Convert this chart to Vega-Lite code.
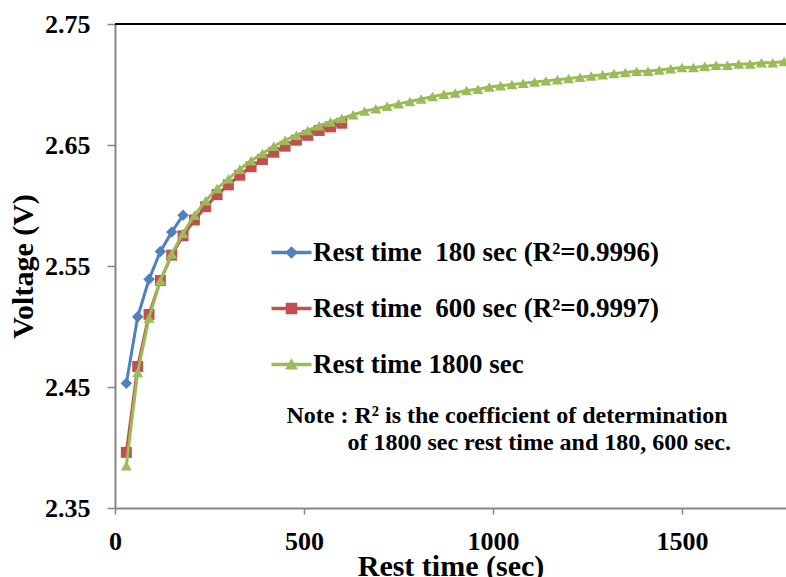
{
  "$schema": "https://vega.github.io/schema/vega-lite/v6.json",
  "autosize": "none",
  "width": 671,
  "height": 484,
  "padding": {"left": 115, "top": 24, "right": 0, "bottom": 69},
  "background": "white",
  "config": {
    "view": {"stroke": null},
    "font": "Liberation Serif",
    "axis": {
      "grid": false,
      "domainColor": "#868686",
      "domainWidth": 2,
      "tickColor": "#868686",
      "tickWidth": 1.5,
      "labelFont": "Liberation Serif",
      "labelFontWeight": "bold",
      "labelFontSize": 26,
      "labelColor": "black",
      "titleFont": "Liberation Serif",
      "titleFontWeight": "bold",
      "titleFontSize": 30,
      "titleColor": "black"
    }
  },
  "datasets": {
    "volt": [
      {"s": "180", "t": 30, "v": 2.453}, {"s": "180", "t": 60, "v": 2.508}, {"s": "180", "t": 90, "v": 2.539},
      {"s": "180", "t": 120, "v": 2.562}, {"s": "180", "t": 150, "v": 2.578}, {"s": "180", "t": 180, "v": 2.592},
      {"s": "600", "t": 30, "v": 2.396}, {"s": "600", "t": 60, "v": 2.467}, {"s": "600", "t": 90, "v": 2.510},
      {"s": "600", "t": 120, "v": 2.538}, {"s": "600", "t": 150, "v": 2.559}, {"s": "600", "t": 180, "v": 2.575},
      {"s": "600", "t": 210, "v": 2.588}, {"s": "600", "t": 240, "v": 2.599}, {"s": "600", "t": 270, "v": 2.609},
      {"s": "600", "t": 300, "v": 2.617}, {"s": "600", "t": 330, "v": 2.625}, {"s": "600", "t": 360, "v": 2.632},
      {"s": "600", "t": 390, "v": 2.638}, {"s": "600", "t": 420, "v": 2.644}, {"s": "600", "t": 450, "v": 2.649},
      {"s": "600", "t": 480, "v": 2.654}, {"s": "600", "t": 510, "v": 2.658}, {"s": "600", "t": 540, "v": 2.662},
      {"s": "600", "t": 570, "v": 2.665}, {"s": "600", "t": 600, "v": 2.668},
      {"s": "1800", "t": 30, "v": 2.385}, {"s": "1800", "t": 60, "v": 2.462}, {"s": "1800", "t": 90, "v": 2.507},
      {"s": "1800", "t": 120, "v": 2.538}, {"s": "1800", "t": 150, "v": 2.560}, {"s": "1800", "t": 180, "v": 2.577},
      {"s": "1800", "t": 210, "v": 2.592}, {"s": "1800", "t": 240, "v": 2.604}, {"s": "1800", "t": 270, "v": 2.614},
      {"s": "1800", "t": 300, "v": 2.622}, {"s": "1800", "t": 330, "v": 2.630}, {"s": "1800", "t": 360, "v": 2.637},
      {"s": "1800", "t": 390, "v": 2.643}, {"s": "1800", "t": 420, "v": 2.649}, {"s": "1800", "t": 450, "v": 2.654},
      {"s": "1800", "t": 480, "v": 2.658}, {"s": "1800", "t": 510, "v": 2.662}, {"s": "1800", "t": 540, "v": 2.666},
      {"s": "1800", "t": 570, "v": 2.669}, {"s": "1800", "t": 600, "v": 2.672}, {"s": "1800", "t": 630, "v": 2.675},
      {"s": "1800", "t": 660, "v": 2.678}, {"s": "1800", "t": 690, "v": 2.680}, {"s": "1800", "t": 720, "v": 2.682},
      {"s": "1800", "t": 750, "v": 2.684}, {"s": "1800", "t": 780, "v": 2.686}, {"s": "1800", "t": 810, "v": 2.688},
      {"s": "1800", "t": 840, "v": 2.690}, {"s": "1800", "t": 870, "v": 2.692}, {"s": "1800", "t": 900, "v": 2.693},
      {"s": "1800", "t": 930, "v": 2.695}, {"s": "1800", "t": 960, "v": 2.696}, {"s": "1800", "t": 990, "v": 2.698},
      {"s": "1800", "t": 1020, "v": 2.699}, {"s": "1800", "t": 1050, "v": 2.700}, {"s": "1800", "t": 1080, "v": 2.701},
      {"s": "1800", "t": 1110, "v": 2.702}, {"s": "1800", "t": 1140, "v": 2.703}, {"s": "1800", "t": 1170, "v": 2.704},
      {"s": "1800", "t": 1200, "v": 2.705}, {"s": "1800", "t": 1230, "v": 2.706}, {"s": "1800", "t": 1260, "v": 2.707},
      {"s": "1800", "t": 1290, "v": 2.708}, {"s": "1800", "t": 1320, "v": 2.709}, {"s": "1800", "t": 1350, "v": 2.710},
      {"s": "1800", "t": 1380, "v": 2.711}, {"s": "1800", "t": 1410, "v": 2.711}, {"s": "1800", "t": 1440, "v": 2.712},
      {"s": "1800", "t": 1470, "v": 2.713}, {"s": "1800", "t": 1500, "v": 2.714}, {"s": "1800", "t": 1530, "v": 2.714},
      {"s": "1800", "t": 1560, "v": 2.715}, {"s": "1800", "t": 1590, "v": 2.716}, {"s": "1800", "t": 1620, "v": 2.716},
      {"s": "1800", "t": 1650, "v": 2.717}, {"s": "1800", "t": 1680, "v": 2.717}, {"s": "1800", "t": 1710, "v": 2.718},
      {"s": "1800", "t": 1740, "v": 2.718}, {"s": "1800", "t": 1770, "v": 2.719}, {"s": "1800", "t": 1800, "v": 2.719}
    ]
  },
  "data": {"name": "volt"},
  "encoding": {
    "x": {
      "field": "t", "type": "quantitative",
      "scale": {"domain": [0, 1775], "nice": false, "zero": false},
      "axis": {"values": [0, 500, 1000, 1500], "format": "d", "title": "Rest time (sec)", "tickSize": 6, "labelPadding": 14, "titlePadding": -3, "labelFlush": false}
    },
    "y": {
      "field": "v", "type": "quantitative",
      "scale": {"domain": [2.35, 2.75], "nice": false, "zero": false},
      "axis": {"values": [2.35, 2.45, 2.55, 2.65, 2.75], "format": ".2f", "title": "Voltage (V)", "tickSize": 8, "labelPadding": 17, "titlePadding": 6, "labelFlush": false}
    }
  },
  "layer": [
    {
      "transform": [{"filter": "datum.s === '180' && datum.t === 30"}],
      "mark": {"type": "rule", "color": "black", "strokeWidth": 2},
      "encoding": {"x": {"datum": 0, "type": "quantitative"}, "x2": {"datum": 1775}, "y": {"datum": 2.75, "type": "quantitative"}}
    },
    {
      "transform": [{"filter": "datum.s === '180'"}],
      "mark": {"type": "line", "color": "#4F81BD", "strokeWidth": 3, "clip": true}
    },
    {
      "transform": [{"filter": "datum.s === '180'"}],
      "mark": {"type": "point", "shape": "diamond", "filled": true, "opacity": 1, "color": "#4F81BD", "size": 130, "clip": true}
    },
    {
      "transform": [{"filter": "datum.s === '600'"}],
      "mark": {"type": "line", "color": "#C0504D", "strokeWidth": 3, "clip": true}
    },
    {
      "transform": [{"filter": "datum.s === '600'"}],
      "mark": {"type": "point", "shape": "square", "filled": true, "opacity": 1, "color": "#C0504D", "size": 120, "clip": true}
    },
    {
      "transform": [{"filter": "datum.s === '1800'"}],
      "mark": {"type": "line", "color": "#9BBB59", "strokeWidth": 3, "clip": true}
    },
    {
      "transform": [{"filter": "datum.s === '1800'"}],
      "mark": {"type": "point", "shape": "triangle-up", "filled": true, "opacity": 1, "color": "#9BBB59", "size": 120, "clip": true}
    },
    {
      "transform": [{"filter": "datum.t === 30"}],
      "mark": {"type": "point", "filled": true, "opacity": 1, "clip": true},
      "encoding": {
        "y": {"datum": 2.0, "type": "quantitative"},
        "color": {
          "field": "s", "type": "nominal",
          "scale": {"domain": ["180", "600", "1800"], "range": ["#4F81BD", "#C0504D", "#9BBB59"]},
          "legend": {
            "title": null,
            "orient": "none",
            "legendX": 163,
            "legendY": 215,
            "direction": "vertical",
            "padding": 0,
            "symbolOpacity": 1,
            "symbolStrokeWidth": 0,
            "labelOffset": 8,
            "rowPadding": 28,
            "labelFont": "Liberation Serif",
            "labelFontWeight": "bold",
            "labelFontSize": 27,
            "labelColor": "black",
            "labelLimit": 600,
            "labelExpr": "datum.value === '180' ? 'Rest time \u00a0180 sec (R²=0.9996)' : datum.value === '600' ? 'Rest time \u00a0600 sec (R²=0.9997)' : 'Rest time 1800 sec'"
          }
        },
        "shape": {
          "field": "s", "type": "nominal",
          "scale": {
            "domain": ["180", "600", "1800"],
            "range": [
              "M-4,-0.343L-0.927,-0.343L0,-1.27L0.927,-0.343L4,-0.343L4,0.343L0.927,0.343L0,1.27L-0.927,0.343L-4,0.343Z",
              "M-4,-0.343L-1.156,-0.343L-1.156,-1.156L1.156,-1.156L1.156,-0.343L4,-0.343L4,0.343L1.156,0.343L1.156,1.156L-1.156,1.156L-1.156,0.343L-4,0.343Z",
              "M-4,-0.343L-0.515,-0.343L0,-1.27L0.515,-0.343L4,-0.343L4,0.343L0.896,0.343L1.27,1.016L-1.27,1.016L-0.896,0.343L-4,0.343Z"
            ]
          }
        }
      }
    },
    {
      "transform": [{"filter": "datum.s === '180' && datum.t === 30"}],
      "mark": {"type": "text", "text": "Note : R² is the coefficient of determination", "font": "Liberation Serif", "fontWeight": "bold", "fontSize": 24, "color": "black", "align": "center", "baseline": "alphabetic"},
      "encoding": {"x": {"datum": 1037, "type": "quantitative"}, "y": {"datum": 2.4202, "type": "quantitative"}}
    },
    {
      "transform": [{"filter": "datum.s === '180' && datum.t === 30"}],
      "mark": {"type": "text", "text": "of 1800 sec rest time and 180, 600 sec.", "font": "Liberation Serif", "fontWeight": "bold", "fontSize": 24, "color": "black", "align": "center", "baseline": "alphabetic"},
      "encoding": {"x": {"datum": 1122, "type": "quantitative"}, "y": {"datum": 2.3979, "type": "quantitative"}}
    }
  ]
}
